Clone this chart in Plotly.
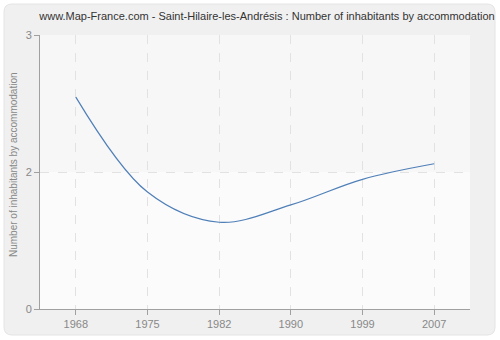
import plotly.graph_objects as go

years = ["1968", "1975", "1982", "1990", "1999", "2007"]
values = [2.32, 1.28, 0.95, 1.14, 1.42, 1.59]
ytick_vals = [0, 1.5, 3]
ytick_text = ["0", "2", "3"]

FONT = "Liberation Sans"

L, R, T, B = 40, 30, 35, 31
W, H = 500, 340
pw, ph = W - L - R, H - T - B

def px2x(p):
    return (p - L) / pw

def py2y(p):
    return (H - B - p) / ph

fig = go.Figure()
fig.add_trace(go.Scatter(
    x=years, y=values, mode="lines",
    line=dict(color="#4f7fb8", width=1.2, shape="spline", smoothing=1.0),
    hoverinfo="skip", showlegend=False,
))

# rounded card background
x0, x1 = px2x(4), px2x(495)
y0, y1 = py2y(335), py2y(4)
rx = 8 / pw
ry = 8 / ph
path = (f"M {x0+rx},{y0} L {x1-rx},{y0} Q {x1},{y0} {x1},{y0+ry} "
        f"L {x1},{y1-ry} Q {x1},{y1} {x1-rx},{y1} L {x0+rx},{y1} "
        f"Q {x0},{y1} {x0},{y1-ry} L {x0},{y0+ry} Q {x0},{y0} {x0+rx},{y0} Z")
shapes = [
    dict(type="path", path=path, xref="paper", yref="paper",
         fillcolor="#f0f0f0", line=dict(color="#e4e4e4", width=1), layer="below"),
    dict(type="rect", xref="paper", yref="paper", x0=0, x1=1, y0=0, y1=1,
         fillcolor="#fbfbfb", line=dict(width=0), layer="below"),
    dict(type="rect", xref="paper", yref="y", x0=0, x1=1, y0=1.5, y1=3,
         fillcolor="#f7f7f7", line=dict(width=0), layer="below"),
]

annotations = [
    dict(text="Number of inhabitants by accommodation", textangle=-90,
         xref="paper", yref="paper", x=px2x(13), y=py2y(165),
         xanchor="center", yanchor="middle", showarrow=False,
         font=dict(family=FONT, size=10, color="#888")),
]

fig.update_layout(
    width=W, height=H,
    margin=dict(l=L, r=R, t=T, b=B, autoexpand=False),
    paper_bgcolor="white",
    plot_bgcolor="rgba(0,0,0,0)",
    shapes=shapes,
    annotations=annotations,
    font=dict(family=FONT, size=11, color="#888"),
    title=dict(
        text="www.Map-France.com - Saint-Hilaire-les-Andrésis : Number of inhabitants by accommodation",
        x=px2x(267), xref="paper", xanchor="center",
        y=1 - 16 / H, yref="container", yanchor="middle",
        font=dict(family=FONT, size=11, color="#333"),
    ),
    xaxis=dict(
        type="category", range=[-0.5, 5.5], automargin=False,
        showline=True, linecolor="#a0a0a0", linewidth=1,
        ticks="outside", ticklen=5, tickcolor="#a0a0a0",
        showgrid=True, gridcolor="#e2e2e2", griddash="dash", gridwidth=1,
        tickfont=dict(family=FONT, size=11, color="#888"),
        zeroline=False, fixedrange=True,
    ),
    yaxis=dict(
        range=[0, 3], tickvals=ytick_vals, ticktext=ytick_text, automargin=False,
        showline=True, linecolor="#a0a0a0", linewidth=1,
        ticks="outside", ticklen=5, tickcolor="#a0a0a0",
        showgrid=True, gridcolor="#e2e2e2", griddash="dash", gridwidth=1,
        tickfont=dict(family=FONT, size=11, color="#888"),
        zeroline=False, fixedrange=True,
    ),
)

fig.write_html("out.html")
